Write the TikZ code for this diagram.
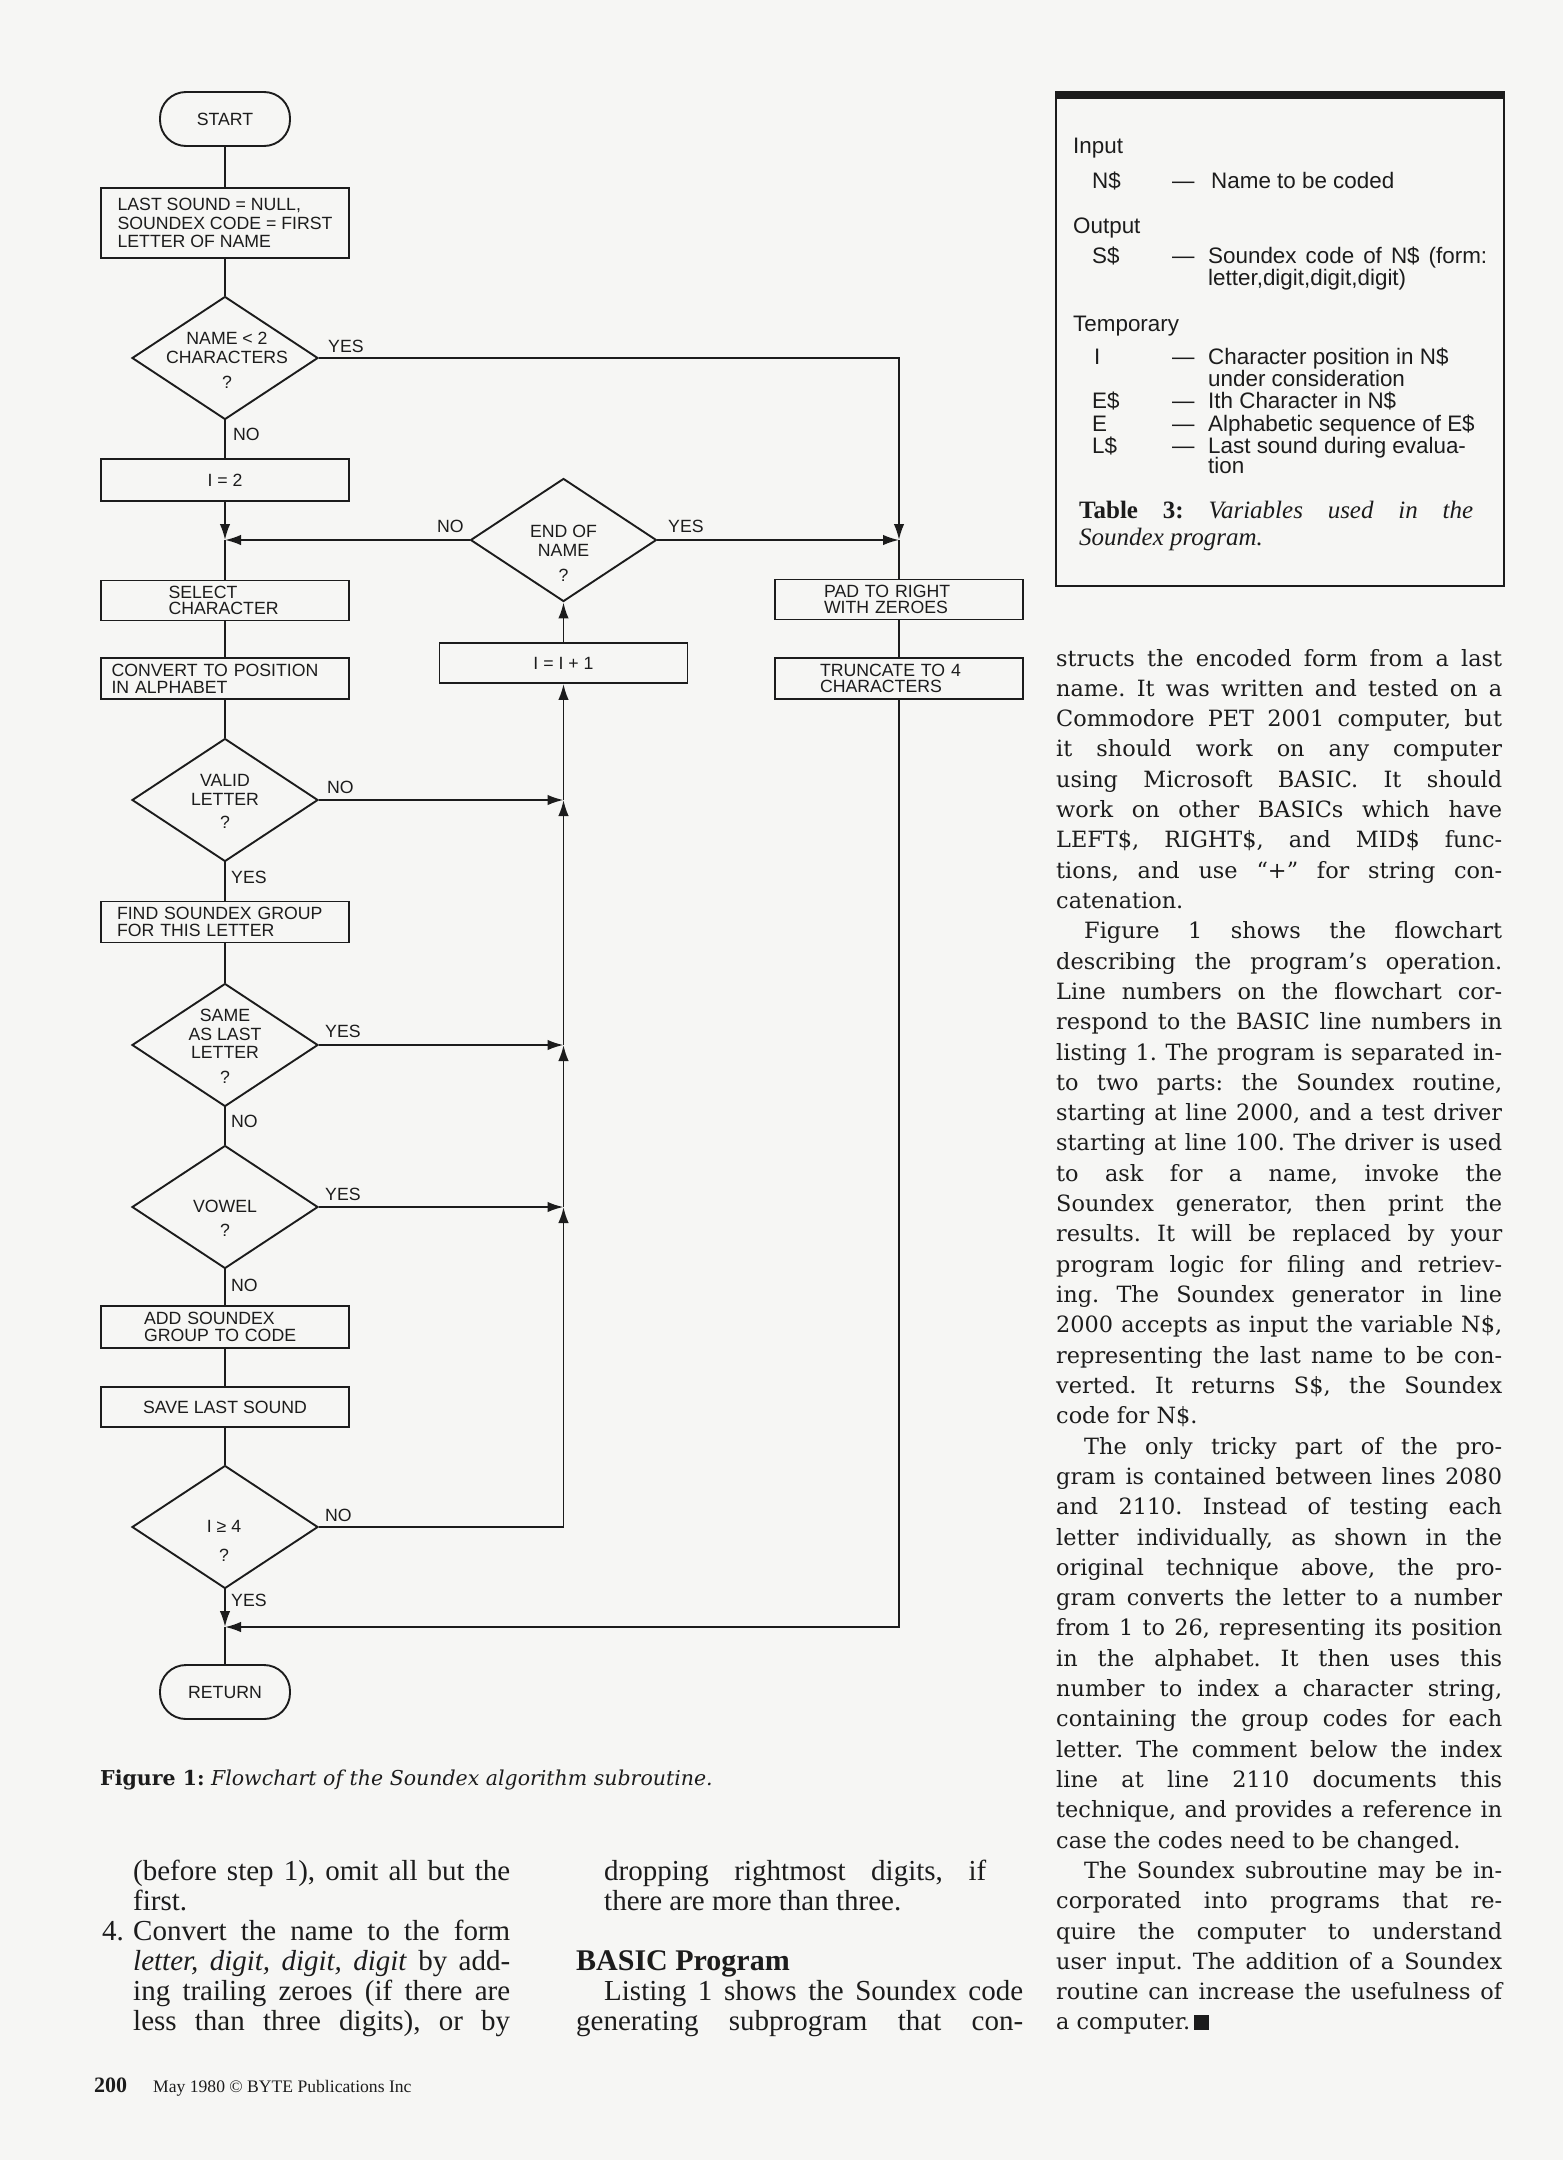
\documentclass[tikz,border=0pt]{standalone}
\usepackage{fontspec}
\setmainfont{Liberation Serif}
\newfontfamily\fcfont{Liberation Sans}
\newfontfamily\tabfont{Liberation Sans}
\newfontfamily\bodyfont{DejaVu Serif}
\usetikzlibrary{shapes.geometric,arrows.meta}
\definecolor{paper}{RGB}{246,246,244}
\definecolor{ink}{RGB}{28,28,28}
\newcommand\rcline[2]{\node[rtext] (r#1) at (1056,{666+(#1-1)*30.31}) {#2};}
\newcommand\rjust[1]{\makebox[446pt][s]{#1}}
\tikzset{
  flow/.style={draw=ink, line width=1.9pt},
  arr/.style={-{Latex[length=16pt,width=10.5pt]}},
  fctext/.style={font=\fcfont\fontsize{17.7}{18.5}\selectfont, text=ink},
  twoline/.style={font=\fcfont\fontsize{17.7}{16.7}\selectfont},
  proc/.style={fctext, draw=ink, line width=1.9pt, rectangle, minimum width=248pt, inner sep=0pt},
  term/.style={fctext, draw=ink, line width=1.9pt, rectangle, rounded corners=26pt, minimum width=130pt, minimum height=54pt, inner sep=0pt},
  dec/.style={draw=ink, line width=1.9pt, diamond, minimum width=186pt, minimum height=123pt, inner sep=0pt},
  dtext/.style={fctext, align=center, anchor=north, inner sep=0pt},
  lab/.style={fctext, anchor=base west, inner sep=0pt},
  ttext/.style={font=\tabfont\fontsize{22.4}{22}\selectfont, text=ink, anchor=base west, inner sep=0pt},
  rtext/.style={font=\bodyfont\fontsize{22.4}{30}\selectfont, text=ink, anchor=base west, inner sep=0pt},
  ltext/.style={font=\fontsize{29}{30}\selectfont, text=ink, anchor=base west, inner sep=0pt},
}
\begin{document}
\frenchspacing
\begin{tikzpicture}[x=1pt,y=-1pt]
\useasboundingbox (0,0) rectangle (1563,2160);
\fill[paper] (0,0) rectangle (1563,2160);

% ---------------- flowchart: main column ----------------
\node[term] (start) at (225,119) {START};
\node[proc, minimum height=70pt, align=left] (init) at (225,223) {LAST SOUND = NULL,\\SOUNDEX CODE = FIRST\\LETTER OF NAME};
\node[dec] (d1) at (225,358) {};
\node[dtext] (d1t) at (227,332.3) {NAME < 2\\CHARACTERS\\[7pt]?};
\node[proc, minimum height=42pt] (i2) at (225,480) {I = 2};
\coordinate (j1) at (225,540);
\node[proc, twoline, minimum height=40pt, text width=113pt, align=left] (sel) at (225,600.5) {SELECT\\CHARACTER};
\node[proc, twoline, minimum height=41pt, text width=227pt, align=left] (conv) at (225,678.5) {CONVERT TO POSITION\\IN ALPHABET};
\node[dec] (d2) at (225,800) {};
\node[dtext] (d2t) at (225,774.3) {VALID\\LETTER\\[5pt]?};
\node[proc, twoline, minimum height=41pt, text width=216pt, align=left] (find) at (225,922) {FIND SOUNDEX GROUP\\FOR THIS LETTER};
\node[dec] (d3) at (225,1045) {};
\node[dtext] (d3t) at (225,1009.3) {SAME\\AS LAST\\LETTER\\[6pt]?};
\node[dec] (d4) at (225,1207) {};
\node[dtext] (d4t) at (225,1200.3) {VOWEL\\[5pt]?};
\node[proc, twoline, minimum height=42pt, text width=162pt, align=left] (add) at (225,1327) {ADD SOUNDEX\\GROUP TO CODE};
\node[proc, minimum height=40pt] (save) at (225,1407) {SAVE LAST SOUND};
\node[dec] (d5) at (225,1527) {};
\node[dtext] (d5t) at (224,1520.3) {I ≥ 4\\[10pt]?};
\coordinate (j2) at (225,1627);
\node[term] (ret) at (225,1692) {RETURN};

% ---------------- flowchart: middle and right ----------------
\node[dec] (endn) at (563.5,540) {};
\node[dtext] (endt) at (563.5,525.3) {END OF\\NAME\\[7pt]?};
\node[proc, minimum height=40pt] (inc) at (563.5,663) {I = I + 1};
\node[proc, twoline, minimum height=40pt, text width=150pt, align=left] (pad) at (899,599.5) {PAD TO RIGHT\\WITH ZEROES};
\node[proc, twoline, minimum height=41pt, text width=158pt, align=left] (trunc) at (899,678.5) {TRUNCATE TO 4\\CHARACTERS};

\coordinate (c1) at (899,358);
\coordinate (jr) at (899,540);
\coordinate (c2) at (899,1627);
\coordinate (jb) at (563.5,1527);
\coordinate (jw) at (563.5,1207);
\coordinate (js) at (563.5,1045);
\coordinate (jv) at (563.5,800);

% ---------------- connectors ----------------
\draw[flow] (start) -- (init);
\draw[flow] (init) -- (d1);
\draw[flow] (d1) -- (i2);
\draw[flow,arr] (i2) -- (j1);
\draw[flow,arr] (endn.west) -- (j1);
\draw[flow] (j1) -- (sel.north);
\draw[flow] (sel) -- (conv);
\draw[flow] (conv) -- (d2);
\draw[flow] (d2) -- (find);
\draw[flow] (find) -- (d3);
\draw[flow] (d3) -- (d4);
\draw[flow] (d4) -- (add);
\draw[flow] (add) -- (save);
\draw[flow] (save) -- (d5);
\draw[flow,arr] (d5.south) -- (j2);
\draw[flow] (j2) -- (ret.north);

\draw[flow,arr] (d1.east) -- (c1) -- (jr);
\draw[flow,arr] (endn.east) -- (jr);
\draw[flow] (jr) -- (pad.north);
\draw[flow] (pad) -- (trunc);
\draw[flow,arr] (trunc.south) -- (c2) -- (j2);

\draw[flow,arr] (d5.east) -- (jb) -- (jw);
\draw[flow,arr] (d4.east) -- (jw);
\draw[flow,arr] (jw) -- (js);
\draw[flow,arr] (d3.east) -- (js);
\draw[flow,arr] (js) -- (jv);
\draw[flow,arr] (d2.east) -- (jv);
\draw[flow,arr] (jv) -- (inc.south);
\draw[flow,arr] (inc.north) -- (endn.south);

% ---------------- branch labels ----------------
\node[lab] (l1y) at (328,352) {YES};
\node[lab] (l1n) at (233,440) {NO};
\node[lab] (len) at (437,532) {NO};
\node[lab] (ley) at (668,532) {YES};
\node[lab] (l2n) at (327,793) {NO};
\node[lab] (l2y) at (231,883) {YES};
\node[lab] (l3y) at (325,1037) {YES};
\node[lab] (l3n) at (231,1127) {NO};
\node[lab] (l4y) at (325,1200) {YES};
\node[lab] (l4n) at (231,1291) {NO};
\node[lab] (l5n) at (325,1521) {NO};
\node[lab] (l5y) at (231,1606) {YES};

% ---------------- Table 3 ----------------
\draw[draw=ink, line width=2pt] (1056,95) rectangle (1504,586);
\fill[ink] (1055,91) rectangle (1505,99);
\node[ttext] (t1) at (1073,153) {Input};
\node[ttext] (t2) at (1092,188) {N\$};
\node[ttext] (t2d) at (1172,188) {—};
\node[ttext] (t2t) at (1211,188) {Name to be coded};
\node[ttext] (t3) at (1073,233) {Output};
\node[ttext] (t4) at (1092,263) {S\$};
\node[ttext] (t4d) at (1172,263) {—};
\node[ttext] (t4t) at (1208,263) {\makebox[279pt][s]{Soundex code of N\$ (form:}};
\node[ttext] (t4u) at (1208,285) {letter,digit,digit,digit)};
\node[ttext] (t5) at (1073,331) {Temporary};
\node[ttext] (t6) at (1094,364) {I};
\node[ttext] (t6d) at (1172,364) {—};
\node[ttext] (t6t) at (1208,364) {Character position in N\$};
\node[ttext] (t6u) at (1208,386) {under consideration};
\node[ttext] (t7) at (1092,408) {E\$};
\node[ttext] (t7d) at (1172,408) {—};
\node[ttext] (t7t) at (1208,408) {Ith Character in N\$};
\node[ttext] (t8) at (1092,431) {E};
\node[ttext] (t8d) at (1172,431) {—};
\node[ttext] (t8t) at (1208,431) {Alphabetic sequence of E\$};
\node[ttext] (t9) at (1092,453) {L\$};
\node[ttext] (t9d) at (1172,453) {—};
\node[ttext] (t9t) at (1208,453) {Last sound during evalua-};
\node[ttext] (t9u) at (1208,473) {tion};
\node[anchor=base west, inner sep=0pt, text=ink, font=\fontsize{25}{27}\selectfont] (tc1) at (1079,518) {\makebox[394pt][s]{\textbf{Table 3:} \textit{Variables used in the}}};
\node[anchor=base west, inner sep=0pt, text=ink, font=\fontsize{25}{27}\selectfont] (tc2) at (1079,545) {\textit{Soundex program.}};

% ---------------- right column text ----------------
\rcline{1}{\rjust{structs the encoded form from a last}}
\rcline{2}{\rjust{name. It was written and tested on a}}
\rcline{3}{\rjust{Commodore PET 2001 computer, but}}
\rcline{4}{\rjust{it should work on any computer}}
\rcline{5}{\rjust{using Microsoft BASIC. It should}}
\rcline{6}{\rjust{work on other BASICs which have}}
\rcline{7}{\rjust{LEFT\$, RIGHT\$, and MID\$ func-}}
\rcline{8}{\rjust{tions, and use “+” for string con-}}
\rcline{9}{catenation.}
\rcline{10}{\rjust{\hspace*{28pt}Figure 1 shows the flowchart}}
\rcline{11}{\rjust{describing the program’s operation.}}
\rcline{12}{\rjust{Line numbers on the flowchart cor-}}
\rcline{13}{\rjust{respond to the BASIC line numbers in}}
\rcline{14}{\rjust{listing 1. The program is separated in-}}
\rcline{15}{\rjust{to two parts: the Soundex routine,}}
\rcline{16}{\rjust{starting at line 2000, and a test driver}}
\rcline{17}{\rjust{starting at line 100. The driver is used}}
\rcline{18}{\rjust{to ask for a name, invoke the}}
\rcline{19}{\rjust{Soundex generator, then print the}}
\rcline{20}{\rjust{results. It will be replaced by your}}
\rcline{21}{\rjust{program logic for filing and retriev-}}
\rcline{22}{\rjust{ing. The Soundex generator in line}}
\rcline{23}{\rjust{2000 accepts as input the variable N\$,}}
\rcline{24}{\rjust{representing the last name to be con-}}
\rcline{25}{\rjust{verted. It returns S\$, the Soundex}}
\rcline{26}{code for N\$.}
\rcline{27}{\rjust{\hspace*{28pt}The only tricky part of the pro-}}
\rcline{28}{\rjust{gram is contained between lines 2080}}
\rcline{29}{\rjust{and 2110. Instead of testing each}}
\rcline{30}{\rjust{letter individually, as shown in the}}
\rcline{31}{\rjust{original technique above, the pro-}}
\rcline{32}{\rjust{gram converts the letter to a number}}
\rcline{33}{\rjust{from 1 to 26, representing its position}}
\rcline{34}{\rjust{in the alphabet. It then uses this}}
\rcline{35}{\rjust{number to index a character string,}}
\rcline{36}{\rjust{containing the group codes for each}}
\rcline{37}{\rjust{letter. The comment below the index}}
\rcline{38}{\rjust{line at line 2110 documents this}}
\rcline{39}{\rjust{technique, and provides a reference in}}
\rcline{40}{case the codes need to be changed.}
\rcline{41}{\rjust{\hspace*{28pt}The Soundex subroutine may be in-}}
\rcline{42}{\rjust{corporated into programs that re-}}
\rcline{43}{\rjust{quire the computer to understand}}
\rcline{44}{\rjust{user input. The addition of a Soundex}}
\rcline{45}{\rjust{routine can increase the usefulness of}}
\rcline{46}{a computer.\,\rule{15pt}{15pt}}

% ---------------- caption, lower columns, footer ----------------
\node[anchor=base west, inner sep=0pt, text=ink, font=\bodyfont\fontsize{20.5}{22}\selectfont] (cap) at (100,1785) {\textbf{Figure 1:} \textit{Flowchart of the Soundex algorithm subroutine.}};

\node[ltext] (c1a) at (133,1880) {\makebox[377pt][s]{(before step 1), omit all but the}};
\node[ltext] (c1b) at (133,1910) {first.};
\node[ltext] (c1c) at (102,1940) {4.};
\node[ltext] (c1d) at (133,1940) {\makebox[377pt][s]{Convert the name to the form}};
\node[ltext] (c1e) at (133,1970) {\makebox[377pt][s]{\textit{letter, digit, digit, digit} by add-}};
\node[ltext] (c1f) at (133,2000) {\makebox[377pt][s]{ing trailing zeroes (if there are}};
\node[ltext] (c1g) at (133,2030) {\makebox[377pt][s]{less than three digits), or by}};

\node[ltext] (c2a) at (604,1880) {\makebox[382pt][s]{dropping rightmost digits, if}};
\node[ltext] (c2b) at (604,1910) {there are more than three.};
\node[ltext, font=\bfseries\fontsize{30}{30}\selectfont] (c2c) at (576,1970) {BASIC Program};
\node[ltext] (c2d) at (604,2000) {\makebox[419pt][s]{Listing 1 shows the Soundex code}};
\node[ltext] (c2e) at (576,2030) {\makebox[447pt][s]{generating subprogram that con-}};

\node[anchor=base west, inner sep=0pt, text=ink, font=\bfseries\fontsize{22}{22}\selectfont] (pg) at (94,2092) {200};
\node[anchor=base west, inner sep=0pt, text=ink, font=\fontsize{17.6}{18}\selectfont] (ft) at (153,2092) {May 1980 © BYTE Publications Inc};
\end{tikzpicture}
\end{document}
